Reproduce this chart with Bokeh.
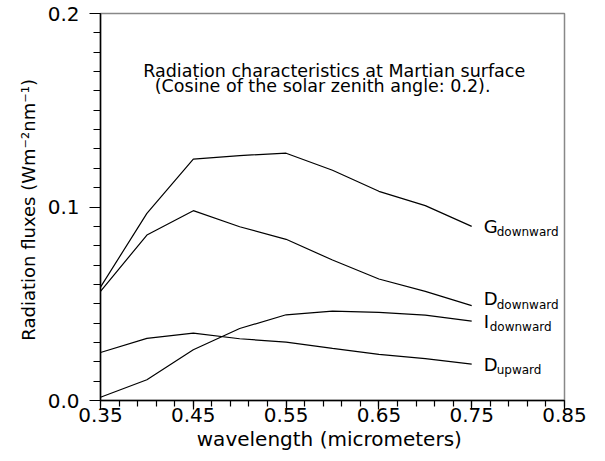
import numpy as np
from bokeh.plotting import figure
from bokeh.models import Range1d, FixedTicker, Label, ColumnDataSource, NumeralTickFormatter
from bokeh.core.properties import value
from bokeh.embed import file_html
from bokeh.resources import INLINE

# Spectral fluxes at the Martian surface (W m^-2 nm^-1)
wavelength = [0.35, 0.40, 0.45, 0.50, 0.55, 0.60, 0.65, 0.70, 0.75]
g_downward = [0.0586, 0.0967, 0.1247, 0.1266, 0.1278, 0.1190, 0.1081, 0.1007, 0.0900]
d_downward = [0.0564, 0.0855, 0.0981, 0.0898, 0.0833, 0.0726, 0.0628, 0.0564, 0.0490]
i_downward = [0.0017, 0.0107, 0.0262, 0.0372, 0.0443, 0.0462, 0.0455, 0.0441, 0.0410]
d_upward = [0.0248, 0.0321, 0.0348, 0.0319, 0.0302, 0.0269, 0.0238, 0.0216, 0.0188]

series_letters = ["G", "D", "I", "D"]
series_subs = ["downward", "downward", "downward", "upward"]
series_values = [g_downward, d_downward, i_downward, d_upward]

x_ticks = [0.35, 0.45, 0.55, 0.65, 0.75, 0.85]
y_ticks = [0.0, 0.1, 0.2]

FONT = "DejaVu Sans"

p = figure(width=605, height=461, output_backend="svg", toolbar_location=None,
           x_range=Range1d(0.35, 0.85), y_range=Range1d(0.0, 0.2),
           min_border_left=100, min_border_right=41,
           min_border_top=13, min_border_bottom=61)
p.grid.visible = False
p.outline_line_color = "#888888"
p.outline_line_width = 1.5
p.background_fill_color = "white"
p.border_fill_color = "white"

# axes
p.xaxis.ticker = FixedTicker(ticks=x_ticks,
                             minor_ticks=[round(0.35 + 0.02 * i, 2) for i in range(26)])
p.yaxis.ticker = FixedTicker(ticks=y_ticks,
                             minor_ticks=[round(0.01 * i, 2) for i in range(21)])
p.xaxis.formatter = NumeralTickFormatter(format="0.00")
p.yaxis.formatter = NumeralTickFormatter(format="0.0")

for ax in (p.xaxis, p.yaxis):
    ax.axis_line_color = "black"
    ax.axis_line_width = 1.5
    ax.major_tick_line_color = "black"
    ax.minor_tick_line_color = "black"
    ax.major_tick_line_width = 1.2
    ax.minor_tick_line_width = 1.2
    ax.major_tick_in = 0
    ax.minor_tick_in = 0
    ax.major_label_text_font = FONT
    ax.major_label_text_font_size = "20px"
    ax.major_label_text_color = "black"
    ax.axis_label_text_font = FONT
    ax.axis_label_text_font_style = "normal"
    ax.axis_label_text_color = "black"

p.xaxis.axis_label_text_font_size = "20px"
p.yaxis.axis_label_text_font_size = "18px"
p.xaxis.major_tick_out = 9
p.xaxis.minor_tick_out = 6
p.yaxis.major_tick_out = 11
p.yaxis.minor_tick_out = 7
p.xaxis.major_label_standoff = -2
p.yaxis.major_label_standoff = 10
p.xaxis.axis_label = "wavelength  (micrometers)"
p.yaxis.axis_label = "Radiation fluxes  (Wm\u207b\u00b2nm\u207b\u00b9)"
p.xaxis.axis_label_standoff = 2
p.yaxis.axis_label_standoff = 6

# flux curves
for vals in series_values:
    p.line(wavelength, vals, line_color="black", line_width=1.2)

# curve names at the right-hand ends
ends = ColumnDataSource(dict(
    x=[wavelength[-1]] * len(series_values),
    y=[v[-1] for v in series_values],
    letter=series_letters,
    sub=series_subs,
    dy=[0, -7, 0, 0],
    dy_sub=[6, -1, 6, 6],
    dx_sub=[25, 25, 18, 25],
))
p.text(x="x", y="y", text="letter", source=ends, x_offset=12, y_offset="dy",
       text_font=value(FONT), text_font_size="18px", text_baseline="middle",
       text_align="left", text_color="black")
p.text(x="x", y="y", text="sub", source=ends, x_offset="dx_sub", y_offset="dy_sub",
       text_font=value(FONT), text_font_size="12px", text_baseline="middle",
       text_align="left", text_color="black")

# caption inside the frame
p.add_layout(Label(x=0.396, y=0.1702, text="Radiation characteristics at Martian surface",
                   text_font=FONT, text_font_size="17.5px", text_color="black",
                   text_baseline="alphabetic"))
p.add_layout(Label(x=0.4085, y=0.1625, text="(Cosine of the solar zenith angle: 0.2).",
                   text_font=FONT, text_font_size="17.5px", text_color="black",
                   text_baseline="alphabetic"))

open("out.html", "w").write(file_html(p, INLINE))
